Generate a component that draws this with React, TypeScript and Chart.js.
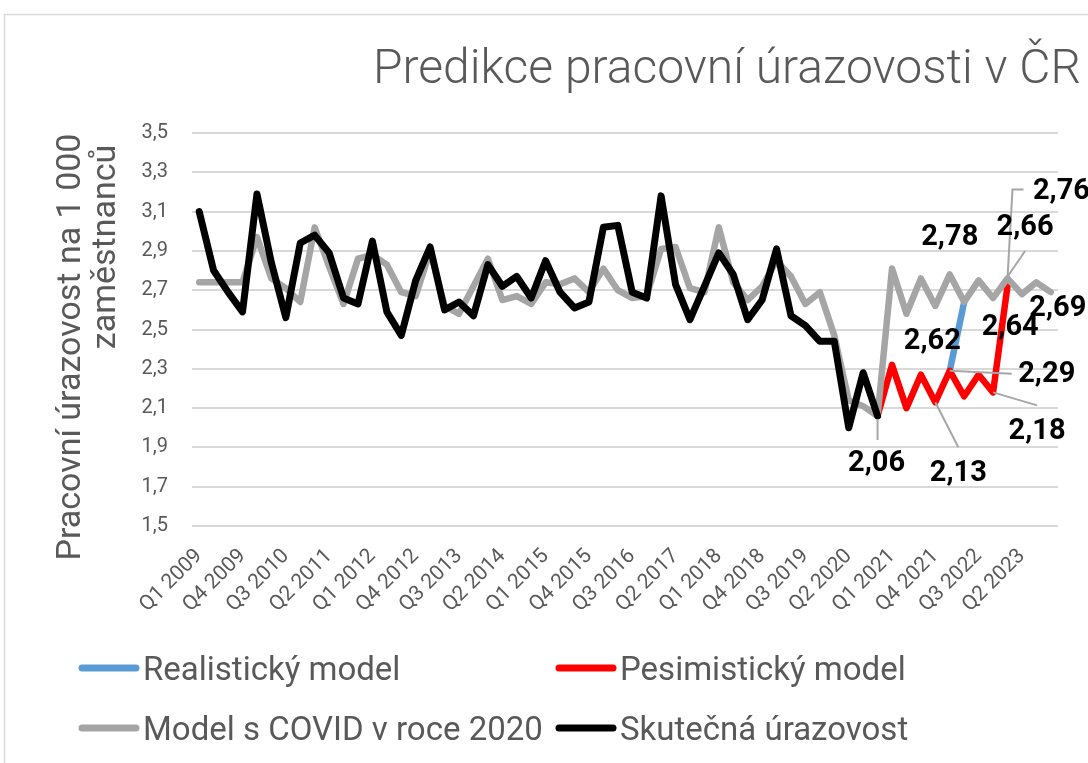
import { useEffect, useRef } from 'react';
import { Chart, registerables } from 'chart.js';

Chart.register(...registerables);

const categories = [
  'Q1 2009', 'Q2 2009', 'Q3 2009', 'Q4 2009',
  'Q1 2010', 'Q2 2010', 'Q3 2010', 'Q4 2010',
  'Q1 2011', 'Q2 2011', 'Q3 2011', 'Q4 2011',
  'Q1 2012', 'Q2 2012', 'Q3 2012', 'Q4 2012',
  'Q1 2013', 'Q2 2013', 'Q3 2013', 'Q4 2013',
  'Q1 2014', 'Q2 2014', 'Q3 2014', 'Q4 2014',
  'Q1 2015', 'Q2 2015', 'Q3 2015', 'Q4 2015',
  'Q1 2016', 'Q2 2016', 'Q3 2016', 'Q4 2016',
  'Q1 2017', 'Q2 2017', 'Q3 2017', 'Q4 2017',
  'Q1 2018', 'Q2 2018', 'Q3 2018', 'Q4 2018',
  'Q1 2019', 'Q2 2019', 'Q3 2019', 'Q4 2019',
  'Q1 2020', 'Q2 2020', 'Q3 2020', 'Q4 2020',
  'Q1 2021', 'Q2 2021', 'Q3 2021', 'Q4 2021',
  'Q1 2022', 'Q2 2022', 'Q3 2022', 'Q4 2022',
  'Q1 2023', 'Q2 2023', 'Q3 2023', 'Q4 2023',
];

// Skutečná úrazovost (from Q1 2009)
const actualValues = [
  3.10, 2.80, 2.69, 2.59, 3.19, 2.84, 2.56, 2.94, 2.98, 2.89,
  2.66, 2.63, 2.95, 2.59, 2.47, 2.75, 2.92, 2.60, 2.64, 2.57,
  2.83, 2.72, 2.77, 2.66, 2.85, 2.69, 2.61, 2.64, 3.02, 3.03,
  2.69, 2.66, 3.18, 2.73, 2.55, 2.72, 2.89, 2.78, 2.55, 2.65,
  2.91, 2.57, 2.52, 2.44, 2.44, 2.00, 2.28, 2.06,
];

// Model s COVID v roce 2020 (from Q1 2009)
const covidModelValues = [
  2.74, 2.74, 2.74, 2.74, 2.97, 2.76, 2.71, 2.64, 3.02, 2.82,
  2.63, 2.86, 2.88, 2.83, 2.69, 2.67, 2.90, 2.62, 2.58, 2.72,
  2.86, 2.65, 2.67, 2.63, 2.74, 2.73, 2.76, 2.69, 2.81, 2.70,
  2.66, 2.67, 2.91, 2.92, 2.71, 2.69, 3.02, 2.74, 2.65, 2.72,
  2.85, 2.77, 2.63, 2.69, 2.47, 2.14, 2.11, 2.06, 2.81, 2.58,
  2.76, 2.62, 2.78, 2.64, 2.75, 2.66, 2.76, 2.68, 2.74, 2.69,
];

// Pesimistický model (from Q4 2020)
const pessimisticStart = 47;
const pessimisticValues = [2.06, 2.32, 2.10, 2.27, 2.13, 2.29, 2.16, 2.27, 2.18, 2.72];

// Realistický model (from Q1 2022)
const realisticStart = 52;
const realisticValues = [2.29, 2.64];

const yTicks = { min: 1.5, max: 3.5, step: 0.2 };

const seriesNames = ['Realistický model', 'Pesimistický model', 'Model s COVID v roce 2020', 'Skutečná úrazovost'];
const seriesColors = ['#5b9bd5', '#ff0000', '#a5a5a5', '#000000'];

const chartTitle = 'Predikce pracovní úrazovosti v ČR';
const yTitleLines = ['Pracovní úrazovost na 1 000', 'zaměstnanců'];

// data labels: dataset index, point index, label offset, leader polyline (relative to point)
const pointLabels = [
  { ds: 3, i: 47, dx: -1, dy: 48, leader: [[0, 3], [0, 24]] },
  { ds: 1, i: 51, dx: 23, dy: 72, leader: [[0, 0], [23, 45]] },
  { ds: 1, i: 52, dx: 97, dy: 4, leader: [[0, 0], [62, 3]] },
  { ds: 1, i: 55, dx: 44, dy: 39, leader: [[0, 0], [44, 13]] },
  { ds: 2, i: 52, dx: 0, dy: -37, leader: null },
  { ds: 2, i: 51, dx: -3, dy: 36, leader: null },
  { ds: 2, i: 53, dx: 46, dy: 26, leader: null },
  { ds: 2, i: 55, dx: 32, dy: -70, leader: [[0, 0], [32, -47]] },
  { ds: 2, i: 56, dx: 54, dy: -87, leader: [[0, 0], [5, -89], [16, -89]] },
  { ds: 2, i: 59, dx: 7, dy: 17, leader: null },
];

const FONT = 'Roboto, "Open Sans", "DejaVu Sans", sans-serif';
const TEXT_GREY = '#595959';

function fromStart(start: number, values: number[]) {
  return categories.map((_, i) => (i >= start && i < start + values.length ? values[i - start] : null));
}

const fmt = (v: number) => v.toFixed(2).replace('.', ',');

const decorPlugin = {
  id: 'decor',
  beforeDraw(chart: any) {
    const ctx = chart.ctx;
    ctx.save();
    ctx.fillStyle = '#ffffff';
    ctx.fillRect(0, 0, chart.width, chart.height);
    ctx.strokeStyle = '#d9d9d9';
    ctx.lineWidth = 1.5;
    ctx.strokeRect(4.5, 14.5, chart.width + 40, chart.height + 40);
    ctx.restore();
  },
  afterDatasetsDraw(chart: any) {
    const ctx = chart.ctx;
    ctx.save();
    pointLabels.forEach((l) => {
      const el = chart.getDatasetMeta(l.ds).data[l.i];
      const v = chart.data.datasets[l.ds].data[l.i];
      if (!el || v == null) return;
      const x = el.x;
      const y = el.y;
      if (l.leader) {
        ctx.strokeStyle = '#a6a6a6';
        ctx.lineWidth = 2;
        ctx.beginPath();
        l.leader.forEach((p, k) => {
          if (k === 0) ctx.moveTo(x + p[0], y + p[1]);
          else ctx.lineTo(x + p[0], y + p[1]);
        });
        ctx.stroke();
      }
    });
    ctx.fillStyle = '#000000';
    ctx.font = `bold 29px ${FONT}`;
    ctx.textAlign = 'center';
    ctx.textBaseline = 'middle';
    pointLabels.forEach((l) => {
      const el = chart.getDatasetMeta(l.ds).data[l.i];
      const v = chart.data.datasets[l.ds].data[l.i];
      if (!el || v == null) return;
      ctx.fillText(fmt(v), el.x + l.dx, el.y + l.dy);
    });
    ctx.restore();
  },
  afterDraw(chart: any) {
    const ctx = chart.ctx;
    ctx.save();
    // title
    ctx.fillStyle = TEXT_GREY;
    ctx.font = `300 48px ${FONT}`;
    ctx.textAlign = 'left';
    ctx.textBaseline = 'alphabetic';
    ctx.fillText(chartTitle, 373, 83);

    // y axis title
    ctx.font = `34px ${FONT}`;
    ctx.textAlign = 'center';
    const yCenters = [347, 247];
    const yBase = [80, 115];
    yTitleLines.forEach((t, k) => {
      ctx.save();
      ctx.translate(yBase[k], yCenters[k]);
      ctx.rotate(-Math.PI / 2);
      ctx.fillText(t, 0, 0);
      ctx.restore();
    });

    // legend (2 x 2)
    const cols = [82, 559];
    const rows = [668, 728];
    chart.data.datasets.forEach((ds: any, k: number) => {
      const x0 = cols[k % 2];
      const y0 = rows[Math.floor(k / 2)];
      ctx.strokeStyle = ds.borderColor;
      ctx.lineWidth = 7;
      ctx.lineCap = 'round';
      ctx.beginPath();
      ctx.moveTo(x0, y0);
      ctx.lineTo(x0 + 54, y0);
      ctx.stroke();
      ctx.fillStyle = TEXT_GREY;
      ctx.font = `33px ${FONT}`;
      ctx.textAlign = 'left';
      ctx.textBaseline = 'alphabetic';
      ctx.fillText(ds.label, x0 + 61, y0 + 12);
    });
    ctx.restore();
  },
};

export default function App() {
  const canvasRef = useRef<HTMLCanvasElement | null>(null);

  useEffect(() => {
    if (!canvasRef.current) return;
    const seriesData = [
      fromStart(realisticStart, realisticValues),
      fromStart(pessimisticStart, pessimisticValues),
      fromStart(0, covidModelValues),
      fromStart(0, actualValues),
    ];
    const orders = [3, 2, 1, 0];
    const widths = [6.5, 6.5, 6.5, 7];
    const chart = new Chart(canvasRef.current, {
      type: 'line',
      data: {
        labels: categories,
        datasets: seriesData.map((d, k) => ({
          label: seriesNames[k],
          data: d,
          borderColor: seriesColors[k],
          backgroundColor: seriesColors[k],
          borderWidth: widths[k],
          pointRadius: 0,
          pointHoverRadius: 0,
          borderJoinStyle: 'round' as const,
          borderCapStyle: 'round' as const,
          tension: 0,
          fill: false,
          spanGaps: false,
          order: orders[k],
        })),
      },
      options: {
        animation: false,
        responsive: false,
        devicePixelRatio: 1,
        events: [],
        layout: { padding: { top: 133, right: 30, left: 0, bottom: 0 } },
        plugins: {
          legend: { display: false },
          title: { display: false },
          tooltip: { enabled: false },
        },
        scales: {
          x: {
            type: 'category',
            offset: true,
            grid: { display: false, drawTicks: false },
            border: { display: false },
            ticks: {
              autoSkip: false,
              maxRotation: 45,
              minRotation: 45,
              padding: 18,
              color: TEXT_GREY,
              font: { family: FONT, size: 21 },
              callback: (_v: any, index: number) => (index % 3 === 0 ? categories[index] : ''),
            },
            afterFit: (scale: any) => {
              scale.height = 237;
            },
          },
          y: {
            min: yTicks.min,
            max: yTicks.max,
            grid: { color: '#d9d9d9', lineWidth: 2, drawTicks: false },
            border: { display: false },
            ticks: {
              stepSize: yTicks.step,
              padding: 24,
              color: TEXT_GREY,
              font: { family: FONT, size: 20 },
              callback: (v: any) => Number(v).toFixed(1).replace('.', ','),
            },
            afterFit: (scale: any) => {
              scale.width = 192;
            },
          },
        },
      },
      plugins: [decorPlugin],
    });
    return () => chart.destroy();
  }, []);

  return (
    <div style={{ position: 'absolute', left: 0, top: 0, width: 1088, height: 763, overflow: 'hidden' }}>
      <canvas ref={canvasRef} width={1088} height={763} style={{ display: 'block' }} />
    </div>
  );
}
